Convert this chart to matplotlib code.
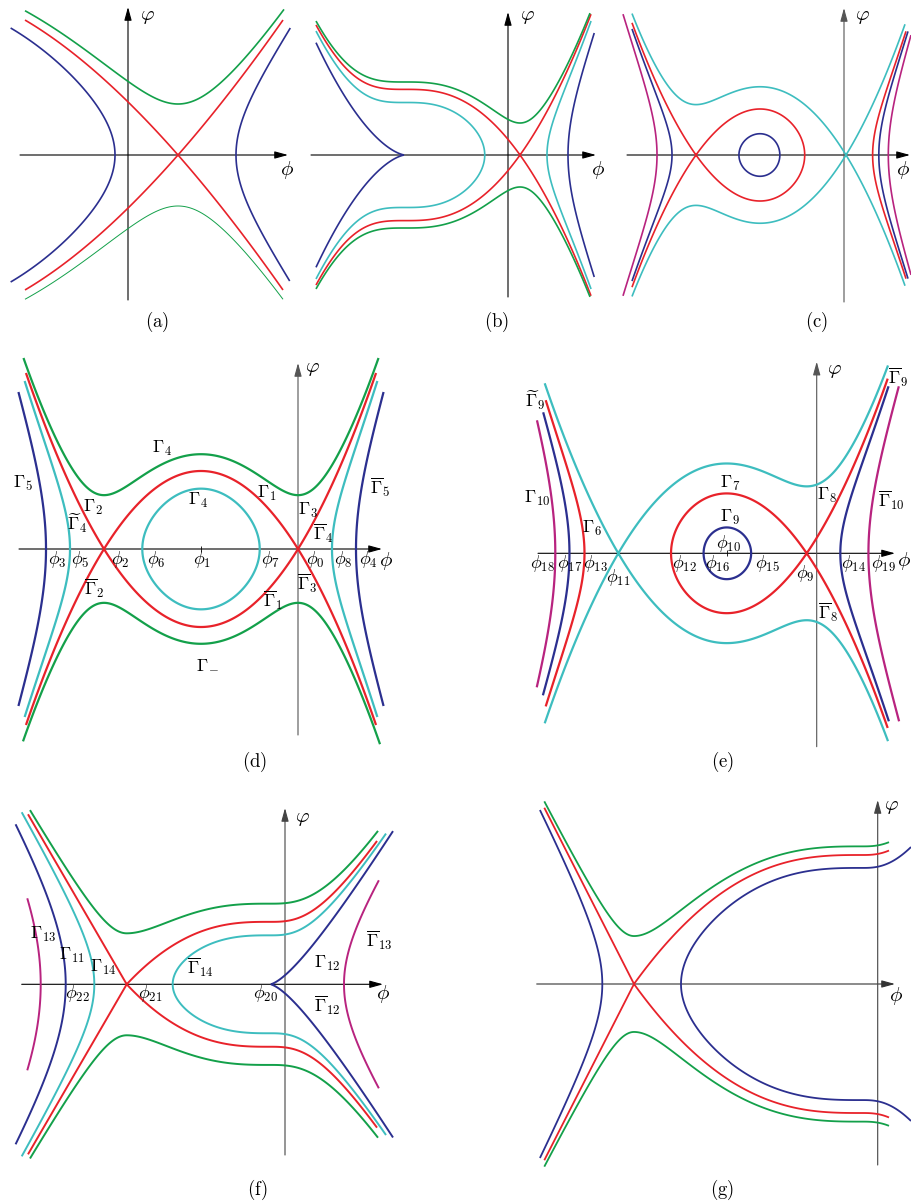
import numpy as np
import matplotlib
matplotlib.use("Agg")
import matplotlib.pyplot as plt

plt.rcParams['mathtext.fontset'] = 'cm'
plt.rcParams['font.family'] = 'serif'
plt.rcParams['contour.negative_linestyle'] = 'solid'

W, H = 911, 1204
BLUE, RED, GREEN, CYAN, MAG = '#2b2f8f', '#e8222a', '#13a04a', '#3dbdbf', '#b8237f'
COL = {'b': BLUE, 'r': RED, 'g': GREEN, 'c': CYAN, 'm': MAG}

# ---------------- data: equilibria, potential scales, energy levels ----------------
# panel (a)
A_ROOTS = [50.0, -205.0]
A_K = 0.01017
A_LEV = [0.0, 2601.0, 2601.0, -4300.0, -5024.0]
A_COL = ['r', 'g', 'g', 'b', 'b']
A_XMIN = [-103, -103, -103, -118, 50]
A_XMAX = [155, 156, 155, 50, 170]
A_YMIN = [-155, 0, -155, -127, -126]
A_YMAX = [155, 155, 0, 127, 127]
A_LW = [1.2, 1.2, 0.7, 1.2, 1.2]

# panel (b)  (saddle 12, cusp point -103)
B_ROOTS = [12.0, -103.0, -103.0]
B_K = 2.954e-4
B_CUSP = -103.0
B_LEV = [0.0, 1024.0, -1550.0, -1909.0, None, -7397.0]   # None -> level through the cusp
B_COL = ['r', 'g', 'c', 'c', 'b', 'b']
B_XMIN = [-192, -192, -192, 12, -192, 12]
B_XMAX = [83, 82, 12, 87, 12, 93]
B_YMIN = [-155, -155, -155, -134, -155, -122]
B_YMAX = [155, 155, 155, 134, 155, 122]

# panel (c)
C_ROOTS = [-148.0, -84.0, 2.0]
C_K = 4.105e-4
C_LEV = [0.0, None, -1664.0, -1574.0, -1574.0, -4971.0, -4971.0]  # None -> right saddle level
C_COL = ['r', 'c', 'b', 'b', 'b', 'm', 'm']
C_XMIN = [-212, -212, -120, -212, 2, -221, 2]
C_XMAX = [62, 61, -50, -148, 64, -148, 67]

# panel (d)
D_ROOTS = [-194.0, -97.0, 0.0]
D_K = 2.749e-4
D_LEV = [0.0, 2900.0, -2444.0, -4130.0, -4130.0, -14681.0, -14681.0]
D_COL = ['r', 'g', 'c', 'c', 'c', 'b', 'b']
D_XMIN = [-276, -275, -180, -292, 0, -292, 0]
D_XMAX = [80, 82, -14, -194, 92, -194, 100]
D_YMIN = [-176, -198, -100, -168, -168, -157, -157]
D_YMAX = [176, 191, 100, 168, 168, 157, 157]

# panel (e)
E_ROOTS = [-198.4, -90.0, -10.0]
E_K = 2.831e-4
E_LEV = [0.0, None, -7397.0, -10562.0, -7946.0, -19600.0, -19600.0]  # None -> right saddle level
E_COL = ['c', 'r', 'b', 'b', 'b', 'm', 'm']
E_XMIN = [-272, -271, -150, -278, -10, -287, -10]
E_XMAX = [71.3, 71, -30, -198.4, 75, -198.4, 95]
E_YMIN = [-199, -199, -60, -142, -168, -134, -168]
E_YMAX = [199, 199, 60, 141, 167, 133, 167]

# panel (f)  (saddle -158.3, cusp -15)
F_SADDLE, F_CUSP = -158.3, -15.0
F_PARAMS = [2.967, 1.11e-4, 0.02812, 100.0]
F_LEV = [0.0, 2600.0, -3115.0, -1503.0, -11040.0, None, -21944.0, -10449.0]
F_COL = ['r', 'g', 'c', 'c', 'b', 'b', 'm', 'm']
F_XMIN = [-257, -255, -263.3, -158.3, -275.7, -16, -272.3, -16]
F_XMAX = [92, 93, -158.3, 101, -158.3, 108, -158.3, 108]
F_YMIN = [-200, -200, -200, -200, -160, -200, -86, -104]
F_YMAX = [200, 200, 200, 200, 160, 200, 86, 104]

# panel (g)  (saddle -243.7, degenerate point -15.7)
G_SADDLE, G_CUSP = -243.7, -15.7
G_PARAMS = [3.86, 7.39e-5, 0.1, 40.0]
G_LEV = [0.0, 2300.0, -3879.0, -3167.0]
G_COL = ['r', 'g', 'b', 'b']
G_XMIN = [-333.4, -333.4, -347.7, -243.7]
G_XMAX = [11.3, 11.3, -243.7, 33.3]
G_YMIN = [-200, -200, -174, -200]
G_YMAX = [200, 200, 174, 200]

# ---------------- labels ----------------
D_LABELS = [(r'$\Gamma_{4}$', 162, 448), (r'$\Gamma_{5}$', 23, 483), (r'$\overline{\Gamma}_{5}$', 380, 485),
            (r'$\Gamma_{2}$', 93, 507), (r'$\Gamma_{4}$', 198, 500), (r'$\Gamma_{1}$', 267, 493),
            (r'$\Gamma_{3}$', 308, 510), (r'$\widetilde{\Gamma}_{4}$', 77, 521), (r'$\overline{\Gamma}_{4}$', 323, 531),
            (r'$\phi_{3}$', 57, 559), (r'$\phi_{5}$', 80, 559), (r'$\phi_{2}$', 120, 559), (r'$\phi_{6}$', 156, 559),
            (r'$\phi_{1}$', 202, 559), (r'$\phi_{7}$', 270, 559), (r'$\phi_{0}$', 315, 559), (r'$\phi_{8}$', 343, 559),
            (r'$\phi_{4}$', 368, 559), (r'$\overline{\Gamma}_{2}$', 94, 586), (r'$\overline{\Gamma}_{3}$', 307, 581),
            (r'$\overline{\Gamma}_{1}$', 273, 598), (r'$\Gamma_{-}$', 207, 663)]
E_LABELS = [(r'$\widetilde{\Gamma}_{9}$', 535, 398), (r'$\overline{\Gamma}_{9}$', 898, 375), (r'$\Gamma_{10}$', 537, 498),
            (r'$\overline{\Gamma}_{10}$', 891, 498), (r'$\Gamma_{7}$', 730, 483), (r'$\Gamma_{8}$', 827, 495),
            (r'$\Gamma_{9}$', 730, 517), (r'$\Gamma_{6}$', 592, 528), (r'$\phi_{10}$', 728, 543),
            (r'$\phi_{18}$', 542, 563), (r'$\phi_{17}$', 570, 563), (r'$\phi_{13}$', 595, 563), (r'$\phi_{11}$', 618, 577),
            (r'$\phi_{12}$', 684, 563), (r'$\phi_{16}$', 717, 563), (r'$\phi_{15}$', 767, 563), (r'$\phi_{9}$', 805, 573),
            (r'$\phi_{14}$', 853, 563), (r'$\phi_{19}$', 883, 563), (r'$\overline{\Gamma}_{8}$', 828, 610)]
F_LABELS = [(r'$\Gamma_{13}$', 43, 934), (r'$\Gamma_{11}$', 72, 955), (r'$\Gamma_{14}$', 103, 967),
            (r'$\overline{\Gamma}_{14}$', 200, 965), (r'$\Gamma_{12}$', 327, 963), (r'$\overline{\Gamma}_{13}$', 379, 938),
            (r'$\phi_{22}$', 77, 993), (r'$\phi_{21}$', 150, 993), (r'$\phi_{20}$', 265, 993),
            (r'$\overline{\Gamma}_{12}$', 327, 1003)]

fig = plt.figure(figsize=(W / 100, H / 100), dpi=100)


def make_poly_g(roots, k, x_ref):
    p = np.polyint(np.poly(roots))
    p0 = np.polyval(p, x_ref)
    return lambda x: k * (np.polyval(p, x) - p0)


def make_cusp_g(x_s, x_c, params):
    a_left, k_mid, k_right, L = params
    D = x_c - x_s
    gD = k_mid * D ** 4 / 12.0

    def g(x):
        u = x - x_s
        mid = k_mid * (u ** 4 / 4 - 2 * D * u ** 3 / 3 + D ** 2 * u ** 2 / 2)
        v = np.maximum(u - D, 0)
        right = gD + k_right * v ** 3 / (1 + v / L)
        return np.where(u < 0, a_left * u ** 2, np.where(u <= D, mid, right))
    return g


class Panel:
    def __init__(self, L, T, R, B, ox, oy):
        self.ox, self.oy = ox, oy
        self.ax = fig.add_axes([L / W, 1 - B / H, (R - L) / W, (B - T) / H])
        self.ax.set_xlim(L - ox, R - ox)
        self.ax.set_ylim(oy - B, oy - T)
        self.ax.set_axis_off()
        self.yl = (oy - B, oy - T)

    def curve(self, g, level, color, x0, x1, y0=None, y1=None, lw=1.5, n=700):
        y0 = self.yl[0] if y0 is None else y0
        y1 = self.yl[1] if y1 is None else y1
        xs = np.linspace(x0, x1, n)
        ys = np.linspace(y0, y1, n)
        X, Y = np.meshgrid(xs, ys)
        Z = Y ** 2 - g(X)
        self.ax.contour(X, Y, Z, levels=[level], colors=[COL[color]], linewidths=[lw],
                        linestyles='solid', zorder=3)

    def arrows(self, hx0, hx1, vy0, vy1, hcol='black', vcol='black'):
        st = '-|>,head_length=0.8,head_width=0.22'
        self.ax.annotate('', xy=(hx1, 0), xytext=(hx0, 0), annotation_clip=False,
                         arrowprops=dict(arrowstyle=st, color=hcol, lw=0.8, shrinkA=0, shrinkB=0), zorder=1)
        self.ax.annotate('', xy=(0, vy1), xytext=(0, vy0), annotation_clip=False,
                         arrowprops=dict(arrowstyle=st, color=vcol, lw=0.8, shrinkA=0, shrinkB=0), zorder=1)

    def text(self, s, px, py, size=13):
        dy = 2 if ('overline' in s or 'widetilde' in s) else 0
        self.ax.text(px - self.ox, self.oy - py - dy, s, ha='center', va='center', fontsize=size, zorder=4)


def axis_names(p, vx, vy, hx, hy):
    p.text(r'$\varphi$', vx, vy, size=15)
    p.text(r'$\phi$', hx, hy, size=15)


# ---- (a)
pa = Panel(0, 0, 305, 310, 128, 155)
ga = make_poly_g(A_ROOTS, A_K, A_ROOTS[0])
pa.arrows(-108, 160, -145, 148)
for i in range(len(A_LEV)):
    pa.curve(ga, A_LEV[i], A_COL[i], A_XMIN[i], A_XMAX[i], A_YMIN[i], A_YMAX[i], lw=A_LW[i])
axis_names(pa, 147, 16, 287, 170)

# ---- (b)
pb = Panel(305, 0, 612, 310, 508, 155)
gb = make_poly_g(B_ROOTS, B_K, B_ROOTS[0])
pb.arrows(-197, 88, -142, 143)
for i in range(len(B_LEV)):
    lev = -float(gb(B_CUSP)) if B_LEV[i] is None else B_LEV[i]
    pb.curve(gb, lev, B_COL[i], B_XMIN[i], B_XMAX[i], B_YMIN[i], B_YMAX[i], lw=1.2)
axis_names(pb, 527, 16, 598, 170)

# ---- (c)
pc = Panel(612, 0, 911, 310, 844, 155)
gc = make_poly_g(C_ROOTS, C_K, C_ROOTS[0])
pc.arrows(-217, 66, -147, 147, vcol='#555555')
for i in range(len(C_LEV)):
    lev = -float(gc(C_ROOTS[2])) if C_LEV[i] is None else C_LEV[i]
    pc.curve(gc, lev, C_COL[i], C_XMIN[i], C_XMAX[i], lw=1.2)
axis_names(pc, 862, 16, 903, 170)

# ---- (d)
pd = Panel(0, 345, 420, 752, 298, 549)
gd = make_poly_g(D_ROOTS, D_K, D_ROOTS[2])
pd.arrows(-279, 84, -186, 186, vcol='#555555')
for i in range(len(D_LEV)):
    pd.curve(gd, D_LEV[i], D_COL[i], D_XMIN[i], D_XMAX[i], D_YMIN[i], D_YMAX[i], lw=1.6)
pd.ax.plot([D_ROOTS[1]], [0], marker='|', color='black', ms=4, mew=0.6, zorder=2)
for s, x, y in D_LABELS:
    pd.text(s, x, y)
axis_names(pd, 312, 369, 386, 561)

# ---- (e)
pe = Panel(505, 345, 911, 752, 816.7, 553.3)
ge = make_poly_g(E_ROOTS, E_K, E_ROOTS[0])
pe.arrows(-278.7, 78.3, -193.4, 191.6, vcol='#555555')
for i in range(len(E_LEV)):
    lev = -float(ge(E_ROOTS[2])) if E_LEV[i] is None else E_LEV[i]
    pe.curve(ge, lev, E_COL[i], E_XMIN[i], E_XMAX[i], E_YMIN[i], E_YMAX[i], lw=1.6)
pe.ax.plot([E_ROOTS[1]], [0], marker='|', color='black', ms=4, mew=0.6, zorder=2)
for s, x, y in E_LABELS:
    pe.text(s, x, y)
axis_names(pe, 834, 371, 904, 561)

# ---- (f)
pf = Panel(0, 775, 420, 1185, 285, 984.3)
gf = make_cusp_g(F_SADDLE, F_CUSP, F_PARAMS)
pf.arrows(-263.3, 98, -170.7, 176.3, vcol='#444444')
for i in range(len(F_LEV)):
    lev = -float(gf(np.array(F_CUSP))) if F_LEV[i] is None else F_LEV[i]
    pf.curve(gf, lev, F_COL[i], F_XMIN[i], F_XMAX[i], F_YMIN[i], F_YMAX[i], lw=1.4)
for s, x, y in F_LABELS:
    pf.text(s, x, y)
axis_names(pf, 302, 818, 383, 994)

# ---- (g)
pg = Panel(505, 775, 911, 1185, 877.7, 984)
gg = make_cusp_g(G_SADDLE, G_CUSP, G_PARAMS)
pg.arrows(-341, 17.3, -181, 184, hcol='#333333', vcol='#444444')
for i in range(len(G_LEV)):
    pg.curve(gg, G_LEV[i], G_COL[i], G_XMIN[i], G_XMAX[i], G_YMIN[i], G_YMAX[i], lw=1.3)
axis_names(pg, 891, 807, 896, 996)

# ---- panel captions
for s, x, y in [('(a)', 157, 322), ('(b)', 497, 322), ('(c)', 816, 322), ('(d)', 255, 762),
                ('(e)', 722, 762), ('(f)', 257, 1190), ('(g)', 722, 1190)]:
    fig.text(x / W, 1 - y / H, r'$\mathrm{%s}$' % s, ha='center', va='center', fontsize=13.5)

fig.savefig('out.png', dpi=100)
